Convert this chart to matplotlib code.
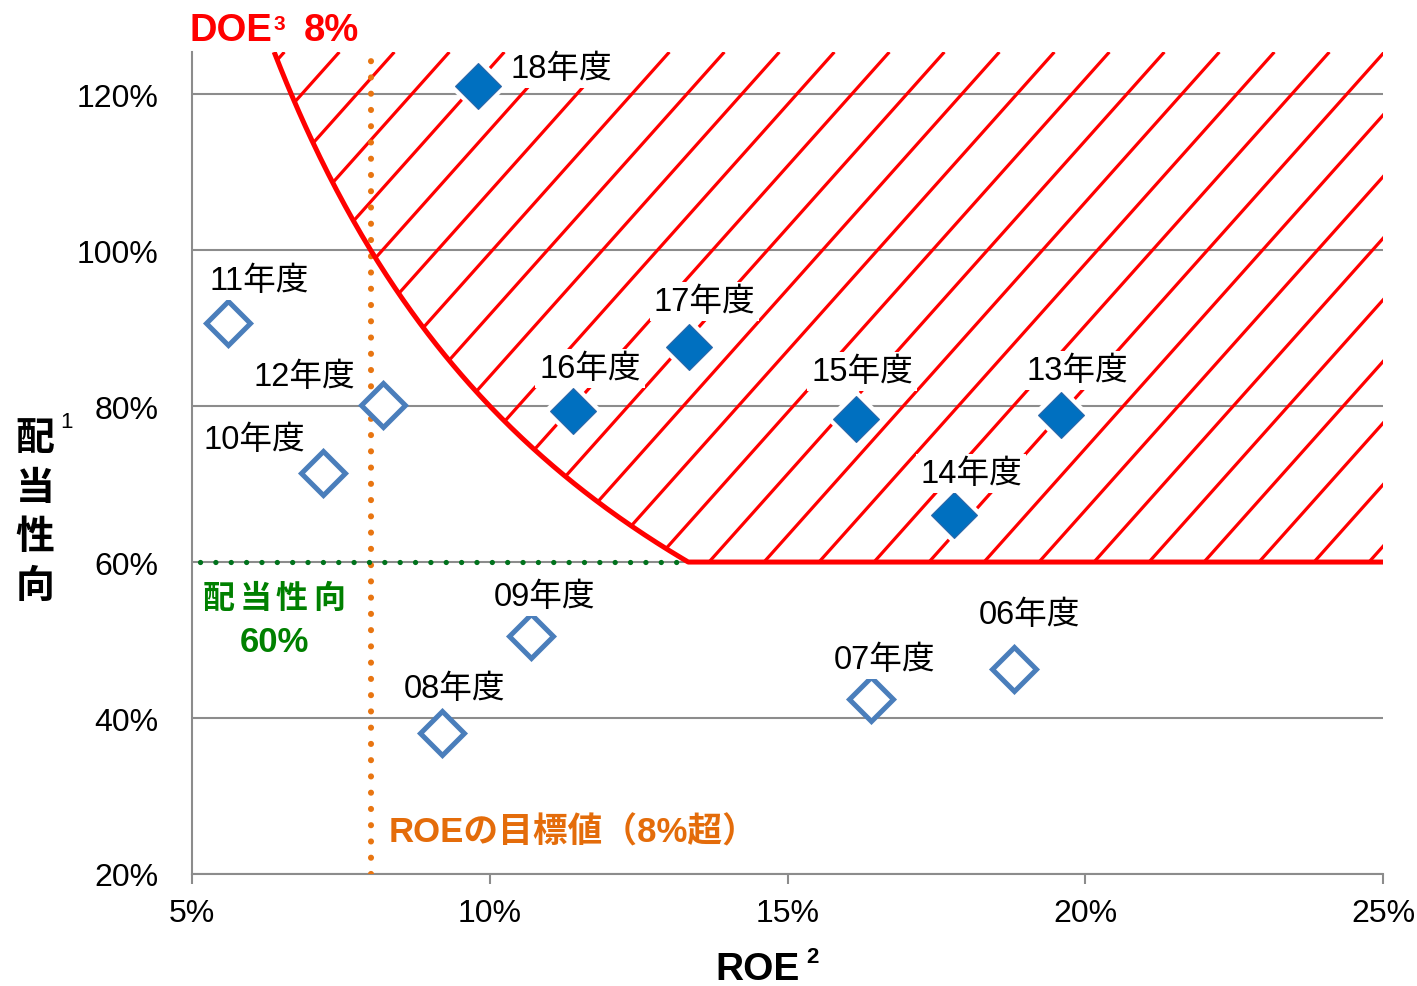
import numpy as np
import matplotlib
matplotlib.use('Agg')
import matplotlib.pyplot as plt
from matplotlib.patches import Polygon
from matplotlib.ticker import FuncFormatter

plt.rcParams['font.family'] = ['Liberation Sans', 'Noto Sans CJK JP']

# past years (open markers): ROE (%) and payout ratio (%)
past_years = ['06年度', '07年度', '08年度', '09年度', '10年度', '11年度', '12年度']
past_roe = [18.8, 16.4, 9.2, 10.7, 7.2, 5.6, 8.2]
past_payout = [46.3, 42.4, 38.1, 50.5, 71.4, 90.6, 80.1]

# recent years (filled markers)
recent_years = ['13年度', '14年度', '15年度', '16年度', '17年度', '18年度']
recent_roe = [19.6, 17.8, 16.15, 11.4, 13.35, 9.8]
recent_payout = [78.8, 66.0, 78.3, 79.4, 87.6, 121.0]

doe_target = 8.0      # DOE 8%
roe_target = 8.0      # ROE target line
payout_target = 60.0  # payout ratio 60%

x_ticks = [5, 10, 15, 20, 25]
y_ticks = [20, 40, 60, 80, 100, 120]

# label offsets from marker centre, in pixels (dx right, dy up)
label_offsets = {
    '06年度': (16, 54), '07年度': (14, 40), '08年度': (12, 44), '09年度': (13, 40),
    '10年度': (-69, 34), '11年度': (31, 43), '12年度': (-78, 29),
    '13年度': (16, 45), '14年度': (17, 42), '15年度': (6, 48), '16年度': (17, 42),
    '17年度': (15, 45), '18年度': (33, 18),
}

W, H = 1417, 987
RED = '#FF0000'
ORANGE = '#E46C0A'
GREEN = '#008000'
GRAY = '#8C8C8C'


def fpos(x, y):
    return x / W, 1 - y / H


fig = plt.figure(figsize=(W / 100, H / 100), dpi=100)
ax = fig.add_axes([192 / W, 1 - 875 / H, (1383 - 192) / W, (875 - 53) / H])
ymax = 125.4
ax.set_xlim(5, 25)
ax.set_ylim(20, ymax)

# grid and spines
ax.set_axisbelow(True)
ax.yaxis.grid(True, color=GRAY, lw=1.5)
for s in ['top', 'right']:
    ax.spines[s].set_visible(False)
for s in ['left', 'bottom']:
    ax.spines[s].set_color(GRAY)
    ax.spines[s].set_linewidth(1.5)
ax.set_xticks(x_ticks)
ax.set_yticks(y_ticks)
fmt = FuncFormatter(lambda v, p: '{:.0f}%'.format(v))
ax.xaxis.set_major_formatter(fmt)
ax.yaxis.set_major_formatter(fmt)
ax.tick_params(axis='y', length=0, pad=24, labelsize=23)
ax.tick_params(axis='x', length=7, width=1.5, color=GRAY, pad=10, labelsize=23)

# DOE 8% boundary: payout = DOE / ROE
roe_corner = doe_target / payout_target * 100
curve_x = np.linspace(doe_target / ymax * 100, roe_corner, 200)
curve_y = doe_target / curve_x * 100
bound_x = np.concatenate([curve_x, [25]])
bound_y = np.concatenate([curve_y, [payout_target]])

# hatched region above the boundary
region = Polygon(np.column_stack([np.concatenate([bound_x, [25]]),
                                  np.concatenate([bound_y, [ymax]])]),
                 closed=True, facecolor='none', edgecolor='none',
                 transform=ax.transData)
ax.add_patch(region)
p0 = ax.transData.transform((5, 20))
p1 = ax.transData.transform((25, 120))
px_x = (p1[0] - p0[0]) / 20
px_y = (p1[1] - p0[1]) / 100
slope = 1.12 * px_x / px_y
step = 55 / px_x
for xb in np.arange(17.376 - 30 * step, 25.5, step):
    ln, = ax.plot([xb, xb + (ymax - payout_target) / slope], [payout_target, ymax],
                  color=RED, lw=2.3, zorder=2, solid_capstyle='butt')
    ln.set_clip_path(region)

ax.plot(bound_x, bound_y, color=RED, lw=3.6, zorder=4, solid_capstyle='butt')

# target lines
ax.plot([roe_target, roe_target], [20, ymax], color='#E87511', lw=4.4,
        linestyle=(0, (0.01, 2.65)), dash_capstyle='round', zorder=3)
ax.plot([5.13, 13.15], [payout_target, payout_target], color='#00721C', lw=3.8,
        linestyle=(0, (0.01, 2.9)), dash_capstyle='round', zorder=3)

# markers
ax.plot(recent_roe, recent_payout, 'D', ms=23.5, color='white', mec='white',
        mew=7, zorder=5, ls='none')
ax.plot(recent_roe, recent_payout, 'D', ms=23.5, color='#0070C0', mec='#2E67A8',
        mew=0.8, zorder=6, ls='none')
ax.plot(past_roe, past_payout, 'D', ms=22, mfc='white', mec='#4A7EBB', mew=3.6,
        zorder=6, ls='none')

for names, xs, ys in [(past_years, past_roe, past_payout),
                      (recent_years, recent_roe, recent_payout)]:
    for name, x, y in zip(names, xs, ys):
        dx, dy = label_offsets[name]
        ha = 'left' if name == '18年度' else 'center'
        ax.annotate(name, (x, y), xytext=(dx * 0.72, dy * 0.72),
                    textcoords='offset points', ha=ha, va='center',
                    fontsize=23.5, zorder=7,
                    bbox=dict(boxstyle='square,pad=0.12', fc='white', ec='none'))

# annotations
fig.text(*fpos(190, 41), 'DOE', color=RED, fontsize=27.5, fontweight='bold',
         ha='left', va='baseline')
fig.text(*fpos(273, 30), '3', color=RED, fontsize=15, fontweight='bold',
         ha='left', va='baseline')
fig.text(*fpos(304, 41), '8%', color=RED, fontsize=27.5, fontweight='bold',
         ha='left', va='baseline')

fig.text(*fpos(715, 980), 'ROE', color='black', fontsize=28, fontweight='bold',
         ha='left', va='baseline')
fig.text(*fpos(806, 963), '2', color='black', fontsize=16, fontweight='bold',
         ha='left', va='baseline')

for ch, yc in zip('配当性向', [440, 490, 539, 588]):
    fig.text(*fpos(35, yc), ch, fontsize=28, fontweight='bold', ha='center', va='center')
fig.text(*fpos(60, 422), '1', fontsize=16, ha='left', va='center')

for ch, xc in zip('配当性向', [219, 256, 292, 329]):
    fig.text(*fpos(xc, 600), ch, color=GREEN, fontsize=23, fontweight='bold',
             ha='center', va='center')
fig.text(*fpos(274, 642), '60%', color=GREEN, fontsize=25, fontweight='bold',
         ha='center', va='center')

fig.text(*fpos(389, 833), 'ROEの目標値（8%超）', color=ORANGE, fontsize=25,
         fontweight='bold', ha='left', va='center')

fig.savefig('out.png', dpi=100, facecolor='white')
